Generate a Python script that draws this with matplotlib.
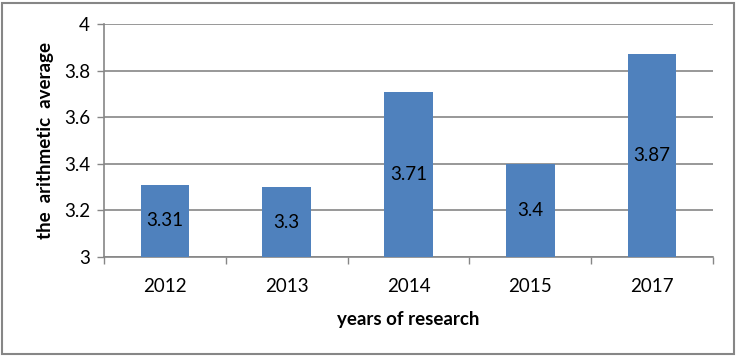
import matplotlib
matplotlib.use("Agg")
import matplotlib.pyplot as plt
from matplotlib.patches import Rectangle

years = ["2012", "2013", "2014", "2015", "2017"]
averages = [3.31, 3.3, 3.71, 3.4, 3.87]
y_ticks = [3, 3.2, 3.4, 3.6, 3.8, 4]

plt.rcParams["font.family"] = ["Lato", "DejaVu Sans"]
GRID = "#868686"
BAR = "#4F81BD"
FS = 13.5

W, H = 737, 356
fig = plt.figure(figsize=(W / 100, H / 100), dpi=100)
ax = fig.add_axes([104 / W, 1 - 257 / H, (713 - 104) / W, (257 - 24) / H])

x = range(len(years))
bars = ax.bar(x, [v - 3 for v in averages], bottom=3, width=0.4,
              color=BAR, zorder=3)
for rect, v in zip(bars, averages):
    ax.text(rect.get_x() + rect.get_width() / 2, (3 + v) / 2, f"{v:g}",
            ha="center", va="center", fontsize=FS, color="black", zorder=4)

ax.set_xlim(-0.5, len(years) - 0.5)
ax.set_ylim(3, 4)
ax.set_yticks(y_ticks)
ax.set_yticklabels([f"{t:g}" for t in y_ticks], fontsize=FS)
ax.set_xticks(list(x))
ax.set_xticklabels(years, fontsize=FS)
ax.set_xticks([i - 0.5 for i in range(len(years) + 1)], minor=True)
ax.tick_params(axis="x", which="major", length=0, pad=15)
ax.tick_params(axis="x", which="minor", length=5, color=GRID, width=1)
ax.tick_params(axis="y", length=5, color=GRID, width=1, pad=5)

ax.grid(axis="y", color=GRID, linewidth=1.2, zorder=0)
for s in ["top", "right"]:
    ax.spines[s].set_visible(False)
for s in ["left", "bottom"]:
    ax.spines[s].set_color(GRID)
    ax.spines[s].set_linewidth(1.2)

ax.set_ylabel("the  arithmetic  average", fontsize=FS, fontweight="bold",
              labelpad=7)
ax.set_xlabel("years of research", fontsize=FS, fontweight="bold", labelpad=12)

fig.patches.append(Rectangle((2 / W, 2 / H), 1 - 5 / W, 1 - 5 / H,
                             transform=fig.transFigure, fill=False,
                             edgecolor=GRID, linewidth=1.5))

fig.savefig("out.png", dpi=100)
